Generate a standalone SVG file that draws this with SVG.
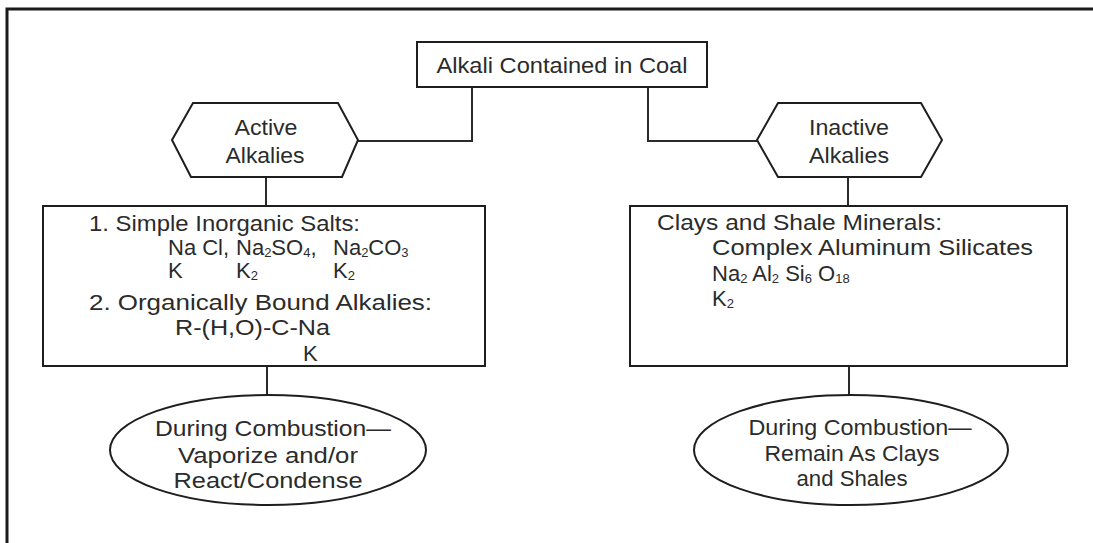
<svg xmlns="http://www.w3.org/2000/svg" width="1093" height="543" viewBox="0 0 1093 543">
  <style>
    .frame { fill: none; stroke: #1a1a1a; stroke-width: 3; }
    .shape { fill: #ffffff; stroke: #1e1e1e; stroke-width: 2; }
    .wire { fill: none; stroke: #2a2a2a; stroke-width: 2; }
    text { font-family: "Liberation Sans", Arial, Helvetica, sans-serif; font-size: 22px; fill: #2b2b2b; }
    .mid { text-anchor: middle; }
    .sub { font-size: 13px; baseline-shift: -2px; }
  </style>

  <rect width="1093" height="543" fill="#ffffff"/>
  <!-- page frame (top and left rules) -->
  <path class="frame" d="M7,543 V9 H1093"/>

  <!-- connectors -->
  <g id="connectors">
    <path class="wire" d="M472,87 V141 H358"/>
    <path class="wire" d="M648,87 V141 H757"/>
    <path class="wire" d="M266,177 V206"/>
    <path class="wire" d="M267,366 V395"/>
    <path class="wire" d="M848,177 V206"/>
    <path class="wire" d="M849,366 V395"/>
  </g>

  <!-- root -->
  <g id="alkali-in-coal">
    <rect class="shape" x="417" y="42" width="290" height="45" stroke-width="2.5"/>
    <text class="mid" x="562" y="73" textLength="251" lengthAdjust="spacingAndGlyphs">Alkali Contained in Coal</text>
  </g>

  <!-- active branch -->
  <g id="active-alkalies">
    <polygon class="shape" points="172,140 193,103 338,103 358,140 342,177 191,177"/>
    <text class="mid" x="266" y="135" textLength="63" lengthAdjust="spacingAndGlyphs">Active</text>
    <text class="mid" x="265" y="163" textLength="79" lengthAdjust="spacingAndGlyphs">Alkalies</text>
  </g>

  <g id="active-forms">
    <rect class="shape" x="43" y="206" width="442" height="160"/>
    <text x="89" y="231" textLength="271" lengthAdjust="spacingAndGlyphs">1.  Simple Inorganic Salts:</text>
    <text x="168" y="255">Na Cl,</text>
    <text x="236" y="255">Na<tspan class="sub">2</tspan>SO<tspan class="sub">4</tspan>,</text>
    <text x="333" y="255">Na<tspan class="sub">2</tspan>CO<tspan class="sub">3</tspan></text>
    <text x="168" y="278">K</text>
    <text x="236" y="278">K<tspan class="sub">2</tspan></text>
    <text x="333" y="278">K<tspan class="sub">2</tspan></text>
    <text x="89" y="310" textLength="343" lengthAdjust="spacingAndGlyphs">2.  Organically Bound Alkalies:</text>
    <text x="175" y="335" textLength="155" lengthAdjust="spacingAndGlyphs">R-(H,O)-C-Na</text>
    <text x="303" y="361">K</text>
  </g>

  <g id="active-combustion">
    <ellipse class="shape" cx="268" cy="450" rx="158" ry="55"/>
    <text class="mid" x="273" y="436" textLength="236" lengthAdjust="spacingAndGlyphs">During Combustion—</text>
    <text class="mid" x="268" y="463" textLength="180" lengthAdjust="spacingAndGlyphs">Vaporize and/or</text>
    <text class="mid" x="268" y="488" textLength="189" lengthAdjust="spacingAndGlyphs">React/Condense</text>
  </g>

  <!-- inactive branch -->
  <g id="inactive-alkalies">
    <polygon class="shape" points="757,140 778,103 921,103 942,140 921,177 778,177"/>
    <text class="mid" x="849" y="135" textLength="80" lengthAdjust="spacingAndGlyphs">Inactive</text>
    <text class="mid" x="849" y="163" textLength="80" lengthAdjust="spacingAndGlyphs">Alkalies</text>
  </g>

  <g id="inactive-forms">
    <rect class="shape" x="630" y="206" width="437" height="160"/>
    <text x="657" y="230" textLength="285" lengthAdjust="spacingAndGlyphs">Clays and Shale Minerals:</text>
    <text x="712" y="255" textLength="321" lengthAdjust="spacingAndGlyphs">Complex Aluminum Silicates</text>
    <text x="712" y="281">Na<tspan class="sub">2</tspan> Al<tspan class="sub">2</tspan> Si<tspan class="sub">6</tspan> O<tspan class="sub">18</tspan></text>
    <text x="712" y="306">K<tspan class="sub">2</tspan></text>
  </g>

  <g id="inactive-combustion">
    <ellipse class="shape" cx="851" cy="450" rx="157" ry="55"/>
    <text class="mid" x="860" y="435" textLength="223" lengthAdjust="spacingAndGlyphs">During Combustion—</text>
    <text class="mid" x="852" y="461" textLength="175" lengthAdjust="spacingAndGlyphs">Remain As Clays</text>
    <text class="mid" x="852" y="486" textLength="111" lengthAdjust="spacingAndGlyphs">and Shales</text>
  </g>
</svg>
